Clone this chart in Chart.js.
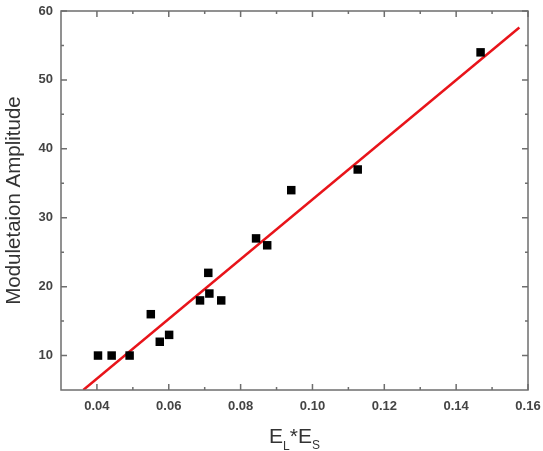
<!DOCTYPE html>
<html>
<head>
<meta charset="utf-8">
<script src="https://cdn.jsdelivr.net/npm/chart.js@4/dist/chart.umd.min.js"></script>
<style>
  html, body { margin: 0; padding: 0; background: #fff; }
  #wrap { width: 543px; height: 451px; }
</style>
</head>
<body>
<div id="wrap"><canvas id="fitChart"></canvas></div>
<script>
// measured points (E_L*E_S vs amplitude)
const xValues = [0.0403, 0.0441, 0.0491, 0.0550, 0.0575, 0.0601, 0.0687, 0.0710, 0.0713, 0.0746, 0.0843, 0.0874, 0.0941, 0.1126, 0.1468];
const yValues = [10, 10, 10, 16, 12, 13, 18, 22, 19, 18, 27, 26, 34, 37, 54];

// linear fit end points
const fitX = [0.0362, 0.1576];
const fitY = [5, 57.6];

// tick labels
const xTickValues = [0.04, 0.06, 0.08, 0.10, 0.12, 0.14, 0.16];
const xMinorValues = [0.05, 0.07, 0.09, 0.11, 0.13, 0.15];
const yTickValues = [10, 20, 30, 40, 50, 60];
const yMinorValues = [15, 25, 35, 45, 55];

const axisColor = '#6e6e6e';
const labelFont = { family: 'Liberation Sans, Arial, sans-serif', size: 13, weight: 'bold' };

// frame + inward ticks on all four sides, like the origin plot
const frameTicks = {
    id: 'frameTicks',
    afterDatasetsDraw(chart) {
        const { ctx, chartArea: a, scales } = chart;
        ctx.save();
        ctx.strokeStyle = axisColor;
        ctx.lineWidth = 1.5;
        ctx.strokeRect(a.left, a.top, a.right - a.left, a.bottom - a.top);
        const tick = (vals, len) => {
            vals.forEach(v => {
                const px = scales.x.getPixelForValue(v);
                ctx.beginPath();
                ctx.moveTo(px, a.bottom); ctx.lineTo(px, a.bottom - len);
                ctx.moveTo(px, a.top); ctx.lineTo(px, a.top + len);
                ctx.stroke();
            });
        };
        const tickY = (vals, len) => {
            vals.forEach(v => {
                const py = scales.y.getPixelForValue(v);
                ctx.beginPath();
                ctx.moveTo(a.left, py); ctx.lineTo(a.left + len, py);
                ctx.moveTo(a.right, py); ctx.lineTo(a.right - len, py);
                ctx.stroke();
            });
        };
        tick(xTickValues, 6);
        tick(xMinorValues, 3);
        tickY(yTickValues, 6);
        tickY(yMinorValues, 3);
        ctx.restore();
    },
    afterDraw(chart) {
        // x axis title with subscripts: E_L*E_S
        const { ctx, chartArea: a } = chart;
        ctx.save();
        ctx.fillStyle = '#333';
        ctx.textBaseline = 'alphabetic';
        const big = '21px Liberation Sans, Arial, sans-serif';
        const small = '12px Liberation Sans, Arial, sans-serif';
        const parts = [['E', big, 0], ['L', small, 7], ['*E', big, 0], ['S', small, 6]];
        let w = 0;
        parts.forEach(p => { ctx.font = p[1]; w += ctx.measureText(p[0]).width; });
        let x = (a.left + a.right) / 2 - w / 2;
        const base = 443;
        parts.forEach(p => {
            ctx.font = p[1];
            ctx.fillText(p[0], x, base + p[2]);
            x += ctx.measureText(p[0]).width;
        });
        ctx.restore();
    }
};

const scatterData = {
    datasets: [{
        label: 'data',
        data: xValues.map((x, i) => ({ x: x, y: yValues[i] })),
        pointStyle: 'rect',
        pointRadius: 6,
        backgroundColor: '#000',
        borderColor: '#000',
        borderWidth: 0,
        showLine: false
    }, {
        label: 'fit',
        data: fitX.map((x, i) => ({ x: x, y: fitY[i] })),
        showLine: true,
        pointRadius: 0,
        borderColor: '#e8141a',
        borderWidth: 2.5,
        fill: false
    }]
};

const scatterConfig = {
    type: 'scatter',
    data: scatterData,
    options: {
        responsive: true,
        maintainAspectRatio: false,
        animation: false,
        layout: { padding: { top: 11, right: 15, left: 0, bottom: 0 } },
        plugins: {
            legend: { display: false },
            tooltip: { enabled: false }
        },
        scales: {
            x: {
                type: 'linear',
                min: 0.03,
                max: 0.16,
                afterBuildTicks: s => { s.ticks = xTickValues.map(v => ({ value: v })); },
                afterFit: s => { s.height = 61; s.paddingLeft = 0; s.paddingRight = 0; },
                grid: { display: false, drawTicks: false },
                border: { display: false },
                ticks: {
                    padding: 9,
                    color: '#444',
                    font: labelFont,
                    maxRotation: 0,
                    callback: v => v.toFixed(2)
                }
            },
            y: {
                type: 'linear',
                min: 5,
                max: 60,
                afterBuildTicks: s => { s.ticks = yTickValues.map(v => ({ value: v })); },
                afterFit: s => { s.width = 61; s.paddingTop = 0; s.paddingBottom = 0; },
                grid: { display: false, drawTicks: false },
                border: { display: false },
                title: {
                    display: true,
                    text: 'Moduletaion Amplitude',
                    color: '#333',
                    font: { family: 'Liberation Sans, Arial, sans-serif', size: 20.5 },
                    padding: { top: 2, bottom: 0 }
                },
                ticks: {
                    padding: 8,
                    color: '#444',
                    font: labelFont
                }
            }
        }
    },
    plugins: [frameTicks]
};

const fitChart = new Chart(document.getElementById('fitChart'), scatterConfig);
</script>
</body>
</html>
